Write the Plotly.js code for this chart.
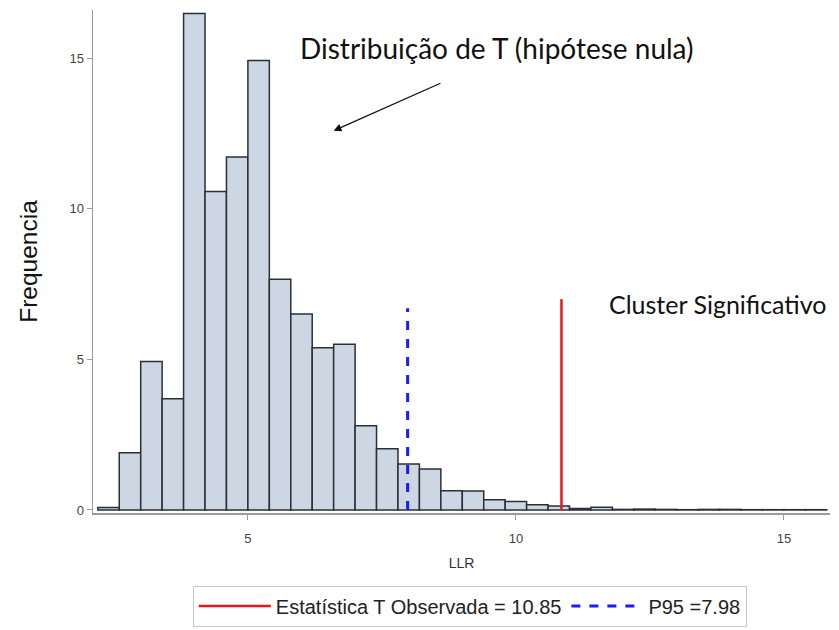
<!DOCTYPE html>
<html>
<head>
<meta charset="utf-8">
<script src="https://cdn.plot.ly/plotly-3.0.1.min.js"></script>
<style>html,body{margin:0;padding:0;background:#fff;}#chart{width:839px;height:630px;}</style>
</head>
<body>
<div id="chart"></div>
<script>
// Histogram of LLR under the null hypothesis (bin width 0.4)
const binCenters = [2.4, 2.8, 3.2, 3.6, 4.0, 4.4, 4.8, 5.2, 5.6, 6.0, 6.4, 6.8, 7.2, 7.6, 8.0, 8.4, 8.8, 9.2, 9.6, 10.0, 10.4, 10.8, 11.2, 11.6, 12.0, 12.4, 12.8, 13.2, 13.6, 14.0, 14.4, 14.8, 15.2, 15.6];
const frequencies = [0.08, 1.9, 4.93, 3.69, 16.48, 10.57, 11.72, 14.92, 7.66, 6.51, 5.39, 5.5, 2.8, 2.03, 1.53, 1.36, 0.64, 0.63, 0.34, 0.28, 0.17, 0.13, 0.05, 0.09, 0.02, 0.03, 0.02, 0.01, 0.02, 0.02, 0.01, 0.01, 0.01, 0.01];
const binWidth = 0.4;
const observedT = 10.85;
const observedTop = 7.0;
const p95 = 7.98;
const p95Top = 6.7;
const observedLabel = "Estatística T Observada = 10.85";
const p95Label = "P95 =7.98";
const xTicks = [5, 10, 15];
const yTicks = [0, 5, 10, 15];
// arrow pointing at the distribution (tail -> head, data units)
const arrowTail = [8.62, 14.19];
const arrowHead = [6.6, 12.59];

const traces = [
  {
    type: 'bar', x: binCenters, y: frequencies, width: binWidth,
    marker: {color: '#cdd6e3', line: {color: '#2b2f36', width: 1.5}},
    showlegend: false, hoverinfo: 'x+y'
  },
  {
    type: 'scatter', mode: 'lines', x: [observedT, observedT], y: [0, observedTop],
    line: {color: '#e8161b', width: 2.5}, name: observedLabel
  },
  {
    type: 'scatter', mode: 'lines', x: [p95, p95], y: [0, p95Top],
    line: {color: '#1a1aff', width: 3, dash: 'dash'}, name: p95Label
  }
];

const layout = {
  width: 839, height: 630,
  margin: {l: 93, r: 9, t: 10, b: 117, autoexpand: false},
  paper_bgcolor: '#fff', plot_bgcolor: '#fff',
  bargap: 0,
  font: {family: 'Liberation Sans, Arial, sans-serif', color: '#333'},
  xaxis: {
    range: [2.11, 15.86], tickvals: xTicks, ticktext: xTicks.map(String),
    showgrid: false, zeroline: false, showline: true, linecolor: '#9a9a9a', linewidth: 1.5,
    ticks: 'outside', ticklen: 5, tickcolor: '#9a9a9a', ticklabelstandoff: 8,
    tickfont: {size: 13, color: '#444'},
    title: {text: 'LLR', font: {size: 14, color: '#333'}, standoff: 13}
  },
  yaxis: {
    range: [-0.1, 16.6], tickvals: yTicks, ticktext: yTicks.map(String),
    showgrid: false, zeroline: false, showline: true, linecolor: '#9a9a9a', linewidth: 1.5,
    ticks: 'outside', ticklen: 5, tickcolor: '#9a9a9a',
    tickfont: {size: 13, color: '#444'},
    title: {text: 'Frequencia', font: {size: 24.5, color: '#111'}, standoff: 25}
  },
  legend: {
    orientation: 'h', x: 0.56, xanchor: 'center', xref: 'container',
    y: 0.038, yanchor: 'middle', yref: 'container',
    bordercolor: '#c8c8c8', borderwidth: 1, itemwidth: 72,
    font: {size: 20, color: '#222', family: 'Liberation Sans, Arial, sans-serif'}
  },
  annotations: [
    {
      xref: 'paper', yref: 'paper', x: 0.548, y: 0.925, xanchor: 'center', yanchor: 'middle',
      text: 'Distribuição de T (hipótese nula)', showarrow: false,
      font: {family: 'Lato, Open Sans, sans-serif', size: 28, color: '#111'}
    },
    {
      xref: 'x', yref: 'y', x: arrowHead[0], y: arrowHead[1],
      axref: 'x', ayref: 'y', ax: arrowTail[0], ay: arrowTail[1],
      text: '', showarrow: true, arrowhead: 2, arrowsize: 1.2, arrowwidth: 1.3, arrowcolor: '#111'
    },
    {
      xref: 'paper', yref: 'paper', x: 0.997, y: 0.415, xanchor: 'right', yanchor: 'middle',
      text: 'Cluster Significativo', showarrow: false,
      font: {family: 'Lato, Open Sans, sans-serif', size: 25, color: '#111'}
    }
  ]
};

Plotly.newPlot('chart', traces, layout, {displayModeBar: false, staticPlot: true});
</script>
</body>
</html>
